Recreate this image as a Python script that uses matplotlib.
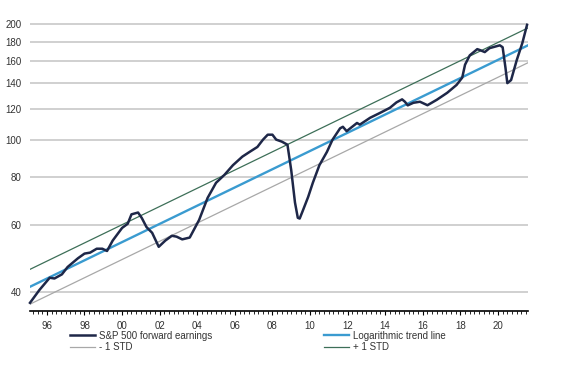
import numpy as np
import matplotlib.pyplot as plt
from matplotlib.ticker import FixedLocator, MultipleLocator, NullFormatter

# S&P 500 forward earnings (decimal year, value)
years = [1995.1, 1995.6, 1996.15, 1996.4, 1996.8, 1997.1, 1997.65, 1998.0, 1998.3,
         1998.65, 1998.95, 1999.2, 1999.5, 2000.0, 2000.3, 2000.5, 2000.85, 2001.05,
         2001.3, 2001.6, 2001.95, 2002.3, 2002.65, 2002.9, 2003.2, 2003.6, 2004.1,
         2004.55, 2005.0, 2005.45, 2005.9, 2006.4, 2006.8, 2007.2, 2007.5, 2007.75,
         2008.0, 2008.2, 2008.5, 2008.8, 2009.0, 2009.2, 2009.35, 2009.45, 2009.6,
         2009.9, 2010.15, 2010.5, 2010.9, 2011.2, 2011.6, 2011.75, 2011.95, 2012.5,
         2012.65, 2013.2, 2013.7, 2014.25, 2014.6, 2014.9, 2015.05, 2015.2, 2015.5,
         2015.85, 2016.25, 2016.75, 2017.3, 2017.8, 2018.1, 2018.25, 2018.5, 2018.9,
         2019.05, 2019.3, 2019.55, 2020.1, 2020.25, 2020.4, 2020.5, 2020.7, 2021.0,
         2021.3, 2021.55]
earnings = [37.6, 40.6, 43.7, 43.5, 44.6, 46.6, 49.1, 50.5, 50.8,
            52.0, 52.0, 51.3, 54.6, 58.9, 60.4, 63.9, 64.6, 62.5,
            59.2, 57.2, 52.6, 54.6, 56.2, 55.9, 55.0, 55.6, 61.8,
            70.5, 77.2, 81.0, 85.8, 90.3, 93.0, 95.7, 100.0, 103.0,
            103.0, 100.0, 98.8, 97.0, 83.3, 68.6, 62.6, 62.3, 65.0,
            70.9, 77.2, 85.8, 92.9, 100.0, 107.0, 108.0, 105.2, 110.5,
            109.4, 114.0, 117.2, 121.0, 125.0, 127.3, 125.5, 122.8, 124.7,
            125.5, 122.9, 127.0, 132.4, 138.8, 145.0, 156.7, 165.7, 172.0,
            171.0, 169.0, 173.0, 176.0, 174.0, 154.0, 140.3, 142.9, 161.0,
            178.5, 199.0]

# logarithmic trend line end points and the 1 STD band factor
trend_years = [1995.1, 2021.6]
trend_values = [41.4, 176.0]
std_factor = 1.11

yticks = [40, 60, 80, 100, 120, 140, 160, 180, 200]
xticks = [1996, 1998, 2000, 2002, 2004, 2006, 2008, 2010, 2012, 2014, 2016, 2018, 2020]
xlabels = ["96", "98", "00", "02", "04", "06", "08", "10", "12", "14", "16", "18", "20"]

plt.rcParams['font.family'] = ['Liberation Sans', 'DejaVu Sans']

fig = plt.figure(figsize=(5.83, 3.65), dpi=100)
ax = fig.add_axes([30 / 583, 1 - 311 / 365, 498 / 583, (311 - 21.5) / 365])

trend = np.array(trend_values)
ax.plot(trend_years, trend * std_factor, color='#3d6f58', lw=0.9, label='+ 1 STD')
ax.plot(trend_years, trend / std_factor, color='#a8a8a8', lw=0.9, label='- 1 STD')
ax.plot(trend_years, trend, color='#3a9bd0', lw=1.7, label='Logarithmic trend line')
ax.plot(years, earnings, color='#1e2748', lw=1.8, label='S&P 500 forward earnings',
        clip_on=False)

ax.set_yscale('log')
ax.set_ylim(35.8, 203)
ax.set_xlim(1995.1, 2021.6)

ax.yaxis.set_major_locator(FixedLocator(yticks))
ax.yaxis.set_minor_locator(FixedLocator([]))
ax.yaxis.set_minor_formatter(NullFormatter())
ax.set_yticklabels([str(t) for t in yticks])
ax.tick_params(axis='y', length=0, pad=6, labelsize=7, labelcolor='#333333')
ax.grid(True, axis='y', color='#c8c8c8', lw=1.2)
ax.set_axisbelow(True)

ax.set_xticks(xticks)
ax.set_xticklabels(xlabels)
ax.xaxis.set_minor_locator(MultipleLocator(0.25))
ax.tick_params(axis='x', which='major', length=3, width=0.8, pad=4,
               labelsize=7, labelcolor='#333333')
ax.tick_params(axis='x', which='minor', length=2, width=0.6)

for side in ['top', 'right', 'left']:
    ax.spines[side].set_visible(False)
ax.spines['bottom'].set_linewidth(1.2)

h, l = ax.get_legend_handles_labels()
leg_kw = dict(frameon=False, fontsize=7, handlelength=2.6, handletextpad=0.4,
              labelspacing=0.15, borderaxespad=0, labelcolor='#333333')
fig.legend([h[3], h[1]], [l[3], l[1]], loc='upper left',
           bbox_to_anchor=(66 / 583, 1 - 327 / 365), **leg_kw)
fig.legend([h[2], h[0]], [l[2], l[0]], loc='upper left',
           bbox_to_anchor=(320 / 583, 1 - 327 / 365), **leg_kw)

fig.savefig('out.png', dpi=100)
